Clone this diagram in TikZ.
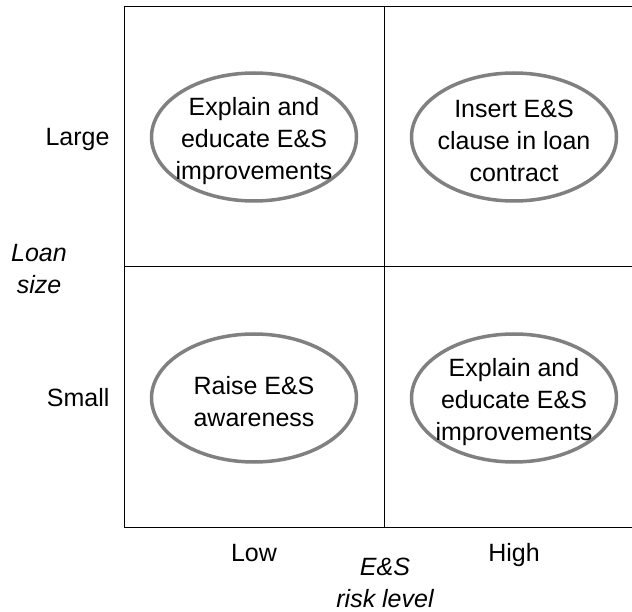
\documentclass[tikz,border=0pt]{standalone}
\usepackage{fontspec}
\setmainfont{Liberation Sans}
\usepackage{tikz}
\usetikzlibrary{shapes.geometric}

\begin{document}
\begin{tikzpicture}[x=1pt, y=-1pt,
        every node/.style={font=\fontsize{25}{32}\selectfont, align=center},
        every label/.style={align=center, yshift=-4pt},
        action/.style={ellipse, draw=gray, line width=3.5pt, minimum width=205, minimum height=128, inner sep=0pt},
        axistitle/.style={font=\fontsize{25}{32}\selectfont\itshape, inner sep=0pt}]
            \useasboundingbox (0,0) rectangle (632,612);
            \clip (0,0) rectangle (632,612);

            \draw[line width=1pt] (124,7) rectangle (644,527);
            \draw[line width=1pt] (384,7) -- (384,527);
            \draw[line width=1pt] (124,267) -- (644,267);

            \node[action, label={center:Explain and\\educate E\&S\\improvements}] (largelow) at (254,137) {};
            \node[action, label={center:Insert E\&S\\clause in loan\\contract}] (largehigh) at (514,137) {};
            \node[action, label={center:Raise E\&S\\awareness}] (smalllow) at (254,398) {};
            \node[action, label={center:Explain and\\educate E\&S\\improvements}] (smallhigh) at (514,398) {};

            \node[anchor=east] (large) at (113,139) {Large};
            \node[anchor=east] (small) at (113,398) {Small};
            \node[axistitle] (loansize) at (39,269) {Loan\\size};

            \node[anchor=base] (low) at (254,561) {Low};
            \node[anchor=base] (high) at (514,561) {High};
            \node[axistitle] (risk) at (385,583) {E\&S\\risk level};
        \end{tikzpicture}
\end{document}
